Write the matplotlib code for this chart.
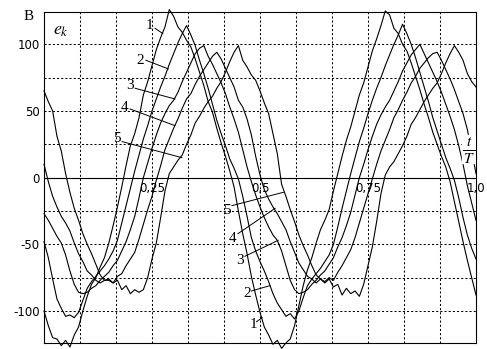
import numpy as np
import matplotlib.pyplot as plt

plt.rcParams['mathtext.fontset'] = 'stix'

# sample points along t/T (step 0.01)
t = np.arange(101) / 100

# e_k values, volts
e1 = [-100, -111, -120, -121, -126, -122, -127, -118, -112, -100,
      -89, -80, -75, -67, -60, -49, -36, -22, -7, 9,
      24, 33, 45, 62, 72, 84, 96, 105, 113, 126,
      121, 113, 109, 103, 98, 89, 79, 69, 57, 49,
      37, 26, 16, 5, -7, -25, -42, -57, -74, -88,
      -101, -112, -118, -125, -122, -128, -124, -121, -111, -96,
      -81, -69, -60, -49, -39, -32, -24, -10, 3, 16,
      28, 38, 50, 62, 71, 83, 95, 104, 114, 125,
      122, 112, 108, 100, 95, 86, 76, 66, 55, 45,
      34, 25, 16, 8, -3, -18, -33, -48, -62, -75,
      -88]
e2 = [-48, -60, -76, -91, -98, -104, -103, -105, -101, -92,
      -83, -78, -74, -70, -66, -61, -55, -47, -34, -21,
      -8, 5, 17, 29, 39, 50, 59, 68, 76, 85,
      93, 101, 108, 114, 107, 99, 88, 78, 67, 55,
      43, 33, 24, 14, 7, -1, -14, -29, -45, -55,
      -63, -70, -78, -87, -94, -99, -104, -102, -106, -100,
      -90, -81, -76, -72, -68, -63, -58, -50, -37, -23,
      -10, 3, 15, 27, 37, 48, 58, 67, 75, 84,
      92, 100, 107, 115, 108, 100, 90, 79, 68, 57,
      45, 35, 25, 15, 7, -2, -15, -30, -43, -53,
      -61]
e3 = [-27, -32, -38, -44, -49, -58, -70, -80, -86, -87,
      -86, -83, -81, -77, -74, -71, -66, -62, -55, -48,
      -39, -29, -15, 0, 11, 22, 32, 41, 48, 54,
      58, 64, 72, 79, 86, 93, 97, 99, 91, 85,
      78, 71, 63, 53, 44, 34, 21, 8, -3, -13,
      -22, -30, -37, -43, -47, -55, -66, -77, -84, -87,
      -86, -84, -80, -77, -73, -70, -65, -60, -52, -45,
      -36, -26, -13, 0, 10, 21, 31, 40, 47, 53,
      58, 65, 72, 80, 86, 92, 96, 100, 93, 86,
      79, 72, 64, 55, 46, 36, 24, 10, -6, -19,
      -32]
e4 = [10, -3, -14, -22, -29, -34, -40, -49, -57, -63,
      -70, -73, -77, -79, -77, -76, -79, -74, -72, -66,
      -61, -56, -46, -35, -24, -14, -2, 9, 21, 29,
      37, 44, 52, 59, 63, 70, 76, 81, 86, 91,
      94, 89, 82, 75, 68, 58, 53, 44, 32, 16,
      2, -9, -16, -22, -27, -33, -39, -48, -56, -64,
      -69, -74, -76, -79, -76, -78, -75, -77, -71, -66,
      -60, -54, -45, -34, -23, -12, -1, 10, 20, 28,
      36, 45, 51, 58, 64, 71, 76, 82, 86, 90,
      93, 94, 88, 81, 74, 66, 57, 48, 36, 20,
      3]
e5 = [65, 57, 50, 31, 20, 3, -11, -23, -32, -42,
      -50, -57, -65, -73, -77, -77, -79, -77, -84, -81,
      -87, -84, -86, -84, -75, -61, -49, -30, -10, 3,
      8, 13, 17, 25, 32, 41, 46, 52, 57, 61,
      67, 72, 79, 87, 94, 99, 88, 83, 77, 73,
      65, 56, 48, 33, 18, -5, -14, -24, -33, -43,
      -51, -58, -66, -73, -76, -79, -76, -82, -80, -88,
      -83, -87, -85, -89, -80, -66, -52, -33, -12, 2,
      8, 12, 18, 24, 31, 40, 45, 51, 57, 62,
      67, 71, 78, 86, 93, 99, 94, 88, 78, 72,
      68]
curves = [e1, e2, e3, e4, e5]
names = ['1', '2', '3', '4', '5']

y_ticks = [-100, -75, -50, -25, 0, 25, 50, 75, 100]
y_labels = ['-100', '', '-50', '', '0', '', '50', '', '100']
x_marks = [0.25, 0.5, 0.75, 1.0]
x_labels = ['0,25', '0,5', '0,75', '1,0']

# label text spots and leader lines (rising and falling edges)
rise_txt = [(0.245, 114), (0.222, 88), (0.199, 69), (0.1875, 52.5), (0.169, 29)]
rise_lead = [((0.257, 112), (0.275, 108)), ((0.236, 88), (0.288, 81.5)),
             ((0.211, 67), (0.303, 59)), ((0.199, 51.5), (0.303, 39)),
             ((0.181, 27), (0.319, 15))]
fall_txt = [(0.484, -110), (0.470, -87), (0.454, -62), (0.4375, -46), (0.423, -25)]
fall_lead = [((0.492, -108), (0.505, -105)), ((0.480, -85), (0.523, -81)),
             ((0.465, -59), (0.542, -47)), ((0.449, -42), (0.535, -23)),
             ((0.435, -21), (0.554, -11))]

fig = plt.figure(figsize=(4.87, 3.49), dpi=100)
ax = fig.add_axes([44 / 487, 6 / 349, 432 / 487, 331 / 349])
ax.set_xlim(0, 1)
ax.set_ylim(-124, 124.2)

ax.set_xticks(np.arange(1, 12) / 12)
ax.set_xticklabels([])
ax.set_yticks(y_ticks)
ax.set_yticklabels(y_labels, fontsize=8.5)
ax.tick_params(length=0, pad=3)
ax.grid(True, color='k', linestyle=(0, (2, 2)), linewidth=0.75)
for s in ax.spines.values():
    s.set_linewidth(0.8)
ax.axhline(0, color='k', lw=0.8)

for e in curves:
    ax.plot(t, e, color='k', lw=0.8, clip_on=False, zorder=2)

serif = 'Liberation Serif'
for n, (x, y), (p0, p1) in zip(names, rise_txt, rise_lead):
    ax.text(x, y, n, family=serif, fontsize=11, ha='center', va='center')
    ax.plot([p0[0], p1[0]], [p0[1], p1[1]], color='k', lw=0.7)
for n, (x, y), (p0, p1) in zip(names, fall_txt, fall_lead):
    ax.text(x, y, n, family=serif, fontsize=11, ha='center', va='center')
    ax.plot([p0[0], p1[0]], [p0[1], p1[1]], color='k', lw=0.7)

for xv, s in zip(x_marks, x_labels):
    ax.text(xv, -3, s, ha='center', va='top', fontsize=8.5)

# axis captions
fig.text(29 / 487, 1 - 16 / 349, 'В', family=serif, fontsize=11,
         ha='center', va='center')
ax.text(0.039, 110.7, r'$e_k$', fontsize=13, ha='center', va='center')
ax.add_patch(plt.Rectangle((0.968, 11), 0.031, 21, color='white', zorder=3))
ax.text(0.984, 21.8, r'$t$', fontsize=11, ha='center', va='bottom', zorder=4)
ax.text(0.984, 19.6, r'$T$', fontsize=11, ha='center', va='top', zorder=4)
ax.plot([0.971, 0.997], [20.7, 20.7], color='k', lw=0.7, zorder=4)

fig.savefig('out.png', dpi=100)
